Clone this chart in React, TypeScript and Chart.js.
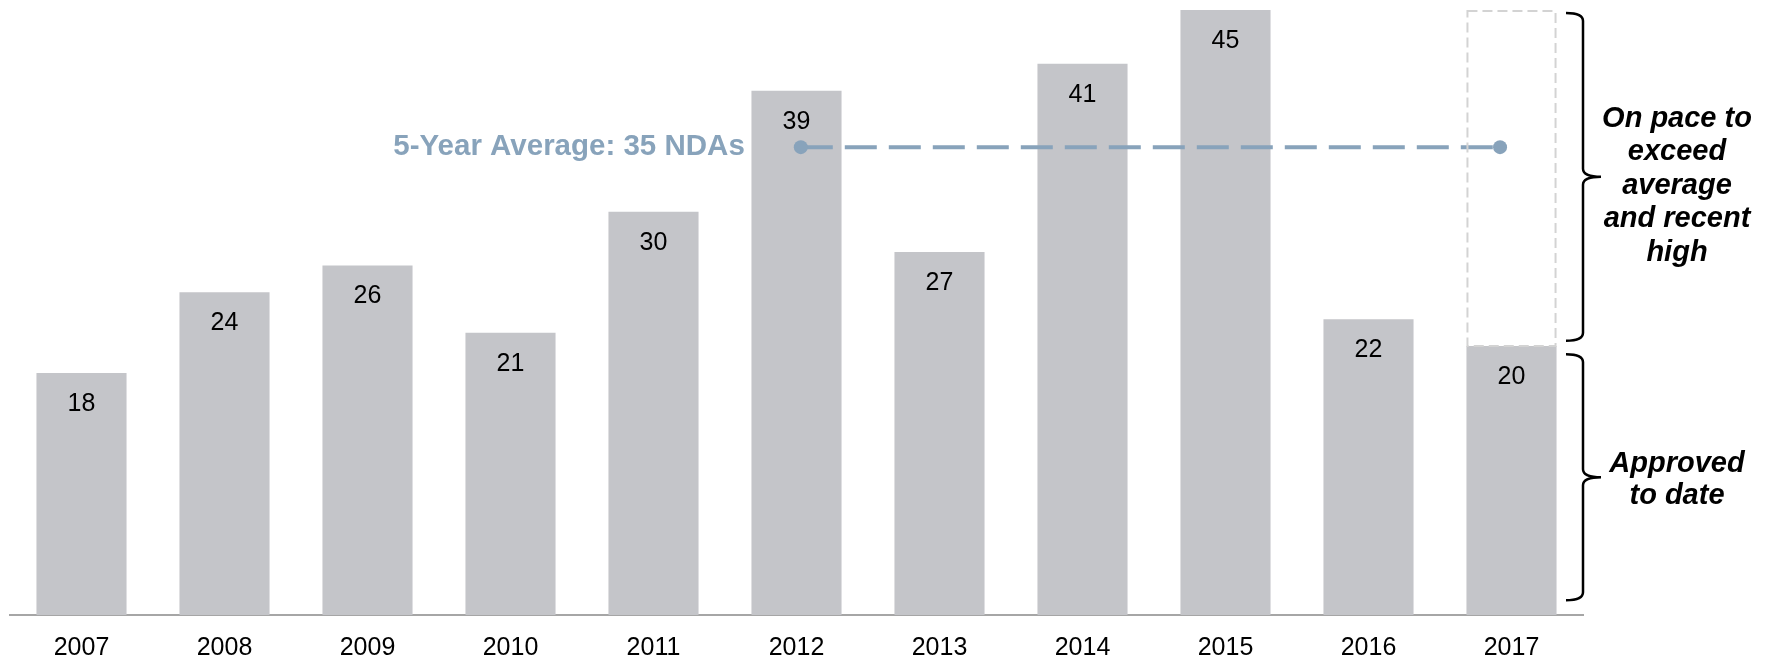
import React, { useEffect, useRef } from 'react';
import { Chart, registerables } from 'chart.js';

Chart.register(...registerables);

const FONT = 'Arial, "Liberation Sans", sans-serif';

const years = ['2007', '2008', '2009', '2010', '2011', '2012', '2013', '2014', '2015', '2016', '2017'];
const approvals = [18, 24, 26, 21, 30, 39, 27, 41, 45, 22, 20];
const averageValue = 34.8;
const averageSpanX = [5.03, 9.92];
const averageLabel = '5-Year Average: 35 NDAs';
const recentHigh = 45;
const paceIndex = 10;
const upperNote = ['On pace to', 'exceed', 'average', 'and recent', 'high'];
const lowerNote = ['Approved', 'to date'];
const upperBraceRange = [45, 20.4];
const lowerBraceRange = [19.4, 1.1];

const BAR_COLOR = '#c4c5c9';
const AVG_COLOR = '#88a3bb';

function drawBrace(ctx: CanvasRenderingContext2D, x: number, top: number, bot: number) {
  const mid = (top + bot) / 2;
  const endX = x - 17;
  const tipX = x + 18;
  const r = 8;
  ctx.beginPath();
  ctx.moveTo(endX, top);
  ctx.quadraticCurveTo(x, top, x, top + r);
  ctx.lineTo(x, mid - r);
  ctx.quadraticCurveTo(x, mid, tipX, mid);
  ctx.quadraticCurveTo(x, mid, x, mid + r);
  ctx.lineTo(x, bot - r);
  ctx.quadraticCurveTo(x, bot, endX, bot);
  ctx.stroke();
}

const annotations = {
  id: 'annotations',
  afterDatasetsDraw(chart: any) {
    const ctx: CanvasRenderingContext2D = chart.ctx;
    const ys = chart.scales.y;
    const area = chart.chartArea;
    const meta = chart.getDatasetMeta(0);
    ctx.save();

    // value labels inside bars
    ctx.font = `25px ${FONT}`;
    ctx.fillStyle = '#000';
    ctx.textAlign = 'center';
    ctx.textBaseline = 'middle';
    meta.data.forEach((bar: any, i: number) => {
      ctx.fillText(String(approvals[i]), bar.x, bar.y + 31);
    });

    // dashed "on pace" box
    const pb = meta.data[paceIndex];
    const w = pb.width;
    const top = ys.getPixelForValue(recentHigh);
    const bot = ys.getPixelForValue(approvals[paceIndex]);
    ctx.setLineDash([10, 5]);
    ctx.strokeStyle = '#d3d3d3';
    ctx.lineWidth = 2;
    ctx.strokeRect(pb.x - w / 2 + 1, top + 1, w - 2, bot - top - 1);
    ctx.setLineDash([]);

    // average label
    const lineMeta = chart.getDatasetMeta(1);
    const p0 = lineMeta.data[0];
    ctx.font = `bold 29.5px ${FONT}`;
    ctx.fillStyle = AVG_COLOR;
    ctx.textAlign = 'right';
    ctx.fillText(averageLabel, p0.x - 56, p0.y);

    // braces
    ctx.strokeStyle = '#000';
    ctx.lineWidth = 2.5;
    const bx = area.right;
    const uTop = ys.getPixelForValue(upperBraceRange[0]) + 3;
    const uBot = ys.getPixelForValue(upperBraceRange[1]);
    const lTop = ys.getPixelForValue(lowerBraceRange[0]);
    const lBot = ys.getPixelForValue(lowerBraceRange[1]);
    drawBrace(ctx, bx, uTop, uBot);
    drawBrace(ctx, bx, lTop, lBot);

    // notes
    ctx.font = `italic bold 29px ${FONT}`;
    ctx.fillStyle = '#000';
    ctx.textAlign = 'center';
    const tx = bx + 94;
    const lh = 33.5;
    const uMid = (uTop + uBot) / 2 + 9;
    upperNote.forEach((t, i) => {
      ctx.fillText(t, tx, uMid + (i - (upperNote.length - 1) / 2) * lh);
    });
    const lMid = (lTop + lBot) / 2 + 3;
    const lh2 = 32;
    lowerNote.forEach((t, i) => {
      ctx.fillText(t, tx, lMid + (i - (lowerNote.length - 1) / 2) * lh2);
    });

    ctx.restore();
  },
};

export default function App() {
  const ref = useRef<HTMLCanvasElement>(null);

  useEffect(() => {
    if (!ref.current) return;
    const chart = new Chart(ref.current, {
      type: 'bar',
      data: {
        labels: years,
        datasets: [
          {
            type: 'bar',
            data: approvals,
            backgroundColor: BAR_COLOR,
            borderWidth: 0,
            barPercentage: 0.63,
            categoryPercentage: 1,
            grouped: false,
            xAxisID: 'x',
            order: 2,
          } as any,
          {
            type: 'line',
            data: averageSpanX.map((x) => ({ x, y: averageValue })),
            xAxisID: 'x2',
            borderColor: AVG_COLOR,
            borderWidth: 4,
            borderDash: [32, 12],
            pointRadius: 7,
            pointBackgroundColor: AVG_COLOR,
            pointBorderWidth: 0,
            order: 1,
          } as any,
        ],
      },
      options: {
        animation: false,
        responsive: false,
        devicePixelRatio: 1,
        layout: { padding: { left: 10, right: 185, top: 10, bottom: 0 } },
        plugins: { legend: { display: false }, tooltip: { enabled: false } },
        scales: {
          x: {
            type: 'category',
            offset: true,
            grid: { display: false, drawTicks: false },
            border: { display: true, color: '#a6a6a6', width: 2 },
            ticks: { color: '#000', font: { size: 25, family: FONT }, padding: 18, maxRotation: 0 },
            afterFit: (s: any) => {
              s.height = 41;
            },
          },
          x2: {
            type: 'linear',
            display: false,
            offset: false,
            bounds: 'data',
            min: -0.5,
            max: 10.5,
          },
          y: {
            display: false,
            min: 0,
            max: 45,
          },
        },
      } as any,
      plugins: [annotations],
    });
    return () => chart.destroy();
  }, []);

  return (
    <div style={{ position: 'fixed', left: 0, top: 0, width: 1768, height: 656, background: '#fff' }}>
      <canvas ref={ref} width={1768} height={656} style={{ width: 1768, height: 656, display: 'block' }} />
    </div>
  );
}
